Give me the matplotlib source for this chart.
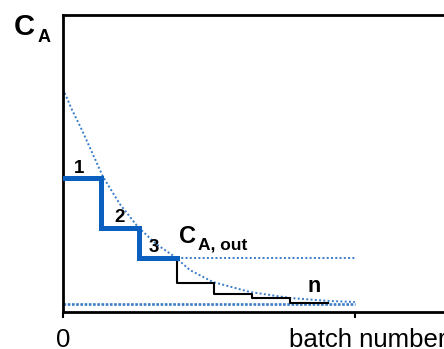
import numpy as np
import matplotlib
matplotlib.use("Agg")
import matplotlib.pyplot as plt

plt.rcParams['font.family'] = ['Liberation Sans', 'DejaVu Sans']

# batch edges and outlet concentration per batch
edges_blue = [0, 1, 2, 3]
conc_blue = [134, 84, 54, 54]
edges_black = [3, 3, 4, 5, 6, 7]
conc_black = [54, 29, 18, 14, 9.5, 9.5]

# dotted decay curve
curve_x = [0, 0.24, 0.5, 1.06, 1.5, 1.98, 2.46, 2.96, 3.35, 3.96, 4.94, 6.0, 7.05, 7.71]
curve_y = [223, 202, 182, 135, 108, 85, 68, 55, 42, 30, 20, 14, 11, 10]

c_out = 54          # C_A,out level
c_floor = 8.5       # asymptote
x_end = 7.7         # end of dotted lines / "batch number" tick

blue = '#0A5FBF'
dot_blue = '#3A7CC8'

fig = plt.figure(figsize=(4.44, 3.49), dpi=100)
ax = fig.add_axes([63 / 444, 37 / 349, 407 / 444, 297 / 349])
ax.set_xlim(0, 407 / 37.86)
ax.set_ylim(0, 297)

ax.plot(curve_x, curve_y, color=dot_blue, lw=1.4, ls=(0, (1, 1.2)))
ax.plot([3, x_end + 0.05], [c_out, c_out], color=dot_blue, lw=1.4, ls=(0, (1, 1.2)))
ax.plot([0, x_end], [c_floor, c_floor], color=dot_blue, lw=1.9, ls=(0, (1, 0.6)))

ax.step(edges_black, conc_black, where='post', color='black', lw=1.5)
ax.step(edges_blue, conc_blue, where='post', color=blue, lw=3.6, zorder=5,
        solid_joinstyle='miter')

for s in ['left', 'top', 'bottom']:
    ax.spines[s].set_linewidth(2)
ax.spines['right'].set_visible(False)

ax.set_yticks([])
ax.set_xticks([0, x_end])
ax.tick_params(axis='x', direction='out', length=4.3, width=1.5, labelbottom=False)

# labels
ax.text(0, -35, '0', fontsize=18.5, ha='center', va='baseline')
ax.text(5.97, -35, 'batch number', fontsize=18.5, ha='left', va='baseline')
ax.text(-1.30, 277, 'C', fontsize=21, fontweight='bold', va='baseline')
ax.text(-0.68, 270, 'A', fontsize=13, fontweight='bold', va='baseline')

ax.text(0.30, 139, '1', fontsize=13.5, fontweight='bold', va='baseline')
ax.text(1.36, 90, '2', fontsize=13.5, fontweight='bold', va='baseline')
ax.text(2.26, 60, '3', fontsize=13.5, fontweight='bold', va='baseline')
ax.text(3.07, 69, 'C', fontsize=17, fontweight='bold', va='baseline')
ax.text(3.57, 62, 'A, out', fontsize=12.5, fontweight='bold', va='baseline')
ax.text(6.45, 20, 'n', fontsize=15.5, fontweight='bold', va='baseline')

fig.savefig('out.png', dpi=100)
